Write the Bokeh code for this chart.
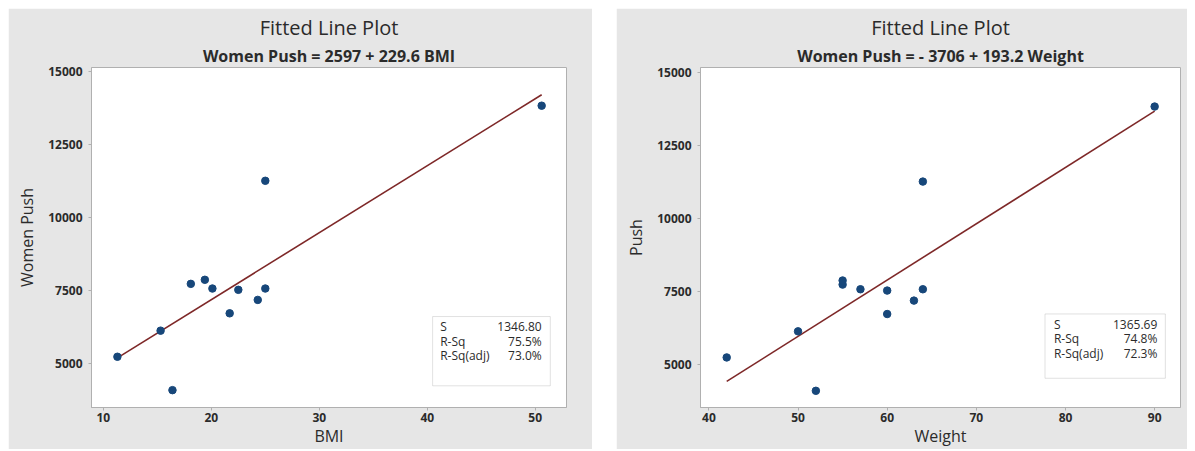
from bokeh.plotting import figure
from bokeh.layouts import row, column
from bokeh.models import Title, FixedTicker, BoxAnnotation, Range1d, Spacer
from bokeh.core.properties import value
from bokeh.embed import file_html
from bokeh.resources import INLINE

# ---- data ----
push = [5230, 6125, 4085, 7730, 7870, 7570, 6720, 7525, 7180, 11265, 7570, 13840]
bmi = [11.3, 15.3, 16.4, 18.1, 19.4, 20.1, 21.7, 22.5, 24.3, 25.0, 25.0, 50.6]
weight = [42, 50, 52, 55, 55, 57, 60, 60, 63, 64, 64, 90]

bmi_fit = (2597, 229.6)
weight_fit = (-3706, 193.2)

stat_names = ["S", "R-Sq", "R-Sq(adj)"]
bmi_stats = ["1346.80", "75.5%", "73.0%"]
weight_stats = ["1365.69", "74.8%", "72.3%"]

y_ticks = [5000, 7500, 10000, 12500, 15000]
bmi_ticks = [10, 20, 30, 40, 50]
weight_ticks = [40, 50, 60, 70, 80, 90]

FONT = "Open Sans"
GRAY = "#e6e6e6"
TXT = "#2b2b2b"


def make(x, y, fit, xlabel, ylabel, subtitle, stats, xr, yr, xticks,
         width, borders, box, text_x, text_y):
    p = figure(width=width, height=441, output_backend="svg",
               toolbar_location=None, x_range=Range1d(*xr), y_range=Range1d(*yr),
               min_border_left=borders[0], min_border_right=borders[1],
               min_border_top=borders[2], min_border_bottom=borders[3])
    p.border_fill_color = GRAY
    p.background_fill_color = "white"
    p.outline_line_color = "#b0b0b0"
    p.grid.visible = False

    sub = Title(text=subtitle, align="center", text_font=FONT, text_font_size="16px",
                text_font_style="bold", text_color=TXT, standoff=2)
    p.add_layout(sub, "above")
    main = Title(text="Fitted Line Plot", align="center", text_font=FONT,
                 text_font_size="20px", text_font_style="normal", text_color=TXT, standoff=2)
    p.add_layout(main, "above")

    for ax in (p.xaxis[0], p.yaxis[0]):
        ax.axis_line_color = "#b0b0b0"
        ax.major_tick_line_color = "#b0b0b0"
        ax.major_tick_out = 3
        ax.major_tick_in = 0
        ax.minor_tick_line_color = None
        ax.major_label_text_font = FONT
        ax.major_label_text_font_size = "12px"
        ax.major_label_text_font_style = "bold"
        ax.major_label_text_color = TXT
        ax.axis_label_text_font = FONT
        ax.axis_label_text_font_size = "16px"
        ax.axis_label_text_font_style = "normal"
        ax.axis_label_text_color = TXT
    p.xaxis.major_label_standoff = 2
    p.xaxis.axis_label_standoff = 0
    p.yaxis.major_label_standoff = 6
    p.yaxis.axis_label_standoff = 7
    p.xaxis.ticker = FixedTicker(ticks=xticks)
    p.yaxis.ticker = FixedTicker(ticks=y_ticks)
    p.xaxis.axis_label = xlabel
    p.yaxis.axis_label = ylabel

    b0, b1 = fit
    xs = [min(x), max(x)]
    p.line(xs, [b0 + b1 * v for v in xs], line_color="#7e2828", line_width=1.6)
    p.scatter(x, y, size=7.5, fill_color="#17477a", line_color="#17477a")

    p.add_layout(BoxAnnotation(left=box[0], right=box[1], bottom=box[2], top=box[3],
                               fill_color="white", fill_alpha=1.0, level="underlay",
                               line_color="#9a9a9a", line_width=1))
    p.text([text_x[0]] * 3, text_y, text=stat_names, text_font=value(FONT),
           text_font_size="12px", text_color=TXT, text_baseline="middle", text_align="left")
    p.text([text_x[1]] * 3, text_y, text=stats, text_font=value(FONT),
           text_font_size="12px", text_color=TXT, text_baseline="middle", text_align="right")
    return p


p1 = make(bmi, push, bmi_fit, "BMI", "Women Push", "Women Push = 2597 + 229.6 BMI",
          bmi_stats, (8.9, 52.9), (3490, 15150), bmi_ticks, 584, (83, 26, 59, 42),
          (40.5, 51.4, 4234, 6609), (41.2, 50.6), [6280, 5743, 5286])
p2 = make(weight, push, weight_fit, "Weight", "Push", "Women Push = - 3706 + 193.2 Weight",
          weight_stats, (39.06, 92.9), (3512, 15180), weight_ticks, 571, (84, 7, 56, 40),
          (77.7, 91.2, 4515, 6722), (78.7, 90.3), [6375, 5868, 5372])

layout = column(Spacer(height=8),
                row(Spacer(width=8), p1, Spacer(width=24), p2, spacing=0),
                spacing=0)
open("out.html", "w").write(file_html(layout, INLINE))
